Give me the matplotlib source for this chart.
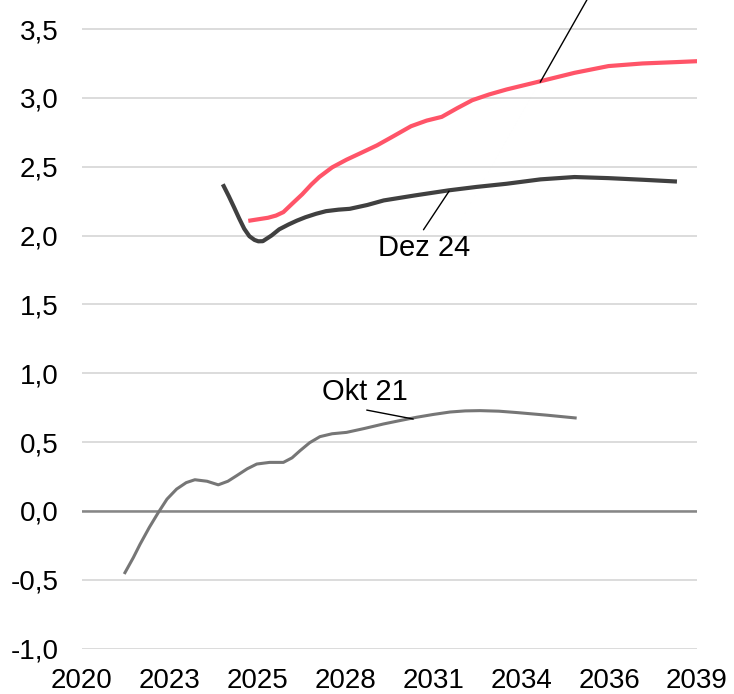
import matplotlib
matplotlib.use('Agg')
import matplotlib.pyplot as plt

# x positions are fractional years
okt21_x = [2021.84, 2022.10, 2022.31, 2022.60, 2022.88, 2023.15, 2023.45, 2023.75, 2024.02, 2024.40,
           2024.75, 2025.05, 2025.32, 2025.65, 2025.95, 2026.35, 2026.78, 2027.05, 2027.30, 2027.60,
           2027.92, 2028.30, 2028.75, 2029.30, 2029.90, 2030.40, 2030.94, 2031.45, 2031.98, 2032.45,
           2032.91, 2033.50, 2034.06, 2035.00, 2035.88]
okt21_y = [-0.449, -0.340, -0.243, -0.120, -0.012, 0.085, 0.158, 0.205, 0.226, 0.215,
           0.189, 0.215, 0.255, 0.305, 0.340, 0.352, 0.352, 0.385, 0.437, 0.495,
           0.539, 0.560, 0.570, 0.598, 0.631, 0.655, 0.680, 0.700, 0.718, 0.726,
           0.728, 0.724, 0.714, 0.695, 0.675]

dez24_x = [2024.92, 2025.08, 2025.24, 2025.40, 2025.56, 2025.72, 2025.88, 2026.00, 2026.14, 2026.41,
           2026.65, 2026.94, 2027.20, 2027.47, 2027.80, 2028.11, 2028.50, 2028.85, 2029.40, 2029.91,
           2030.90, 2031.93, 2032.80, 2033.74, 2034.80, 2035.86, 2036.92, 2038.00, 2038.99]
dez24_y = [2.359, 2.285, 2.206, 2.125, 2.049, 1.995, 1.968, 1.958, 1.959, 2.000,
           2.045, 2.080, 2.108, 2.133, 2.158, 2.177, 2.188, 2.194, 2.222, 2.255,
           2.292, 2.328, 2.353, 2.376, 2.408, 2.425, 2.417, 2.405, 2.393]

neu_x = [2025.75, 2026.05, 2026.30, 2026.55, 2026.78, 2027.05, 2027.37, 2027.65, 2027.90, 2028.30,
         2028.75, 2029.20, 2029.70, 2030.20, 2030.76, 2031.25, 2031.72, 2032.20, 2032.67, 2033.20,
         2033.74, 2034.80, 2035.86, 2036.92, 2037.98, 2039.05, 2039.74]
neu_y = [2.109, 2.120, 2.129, 2.145, 2.170, 2.230, 2.300, 2.370, 2.425, 2.495,
         2.551, 2.600, 2.655, 2.720, 2.794, 2.835, 2.862, 2.925, 2.983, 3.025,
         3.061, 3.121, 3.182, 3.231, 3.250, 3.260, 3.267]

x_ticks = [2020.5 + 2.74 * i for i in range(8)]
x_labels = ['2020', '2023', '2025', '2028', '2031', '2034', '2036', '2039']
y_ticks = [-1.0, -0.5, 0.0, 0.5, 1.0, 1.5, 2.0, 2.5, 3.0, 3.5]
y_labels = ['-1,0', '-0,5', '0,0', '0,5', '1,0', '1,5', '2,0', '2,5', '3,0', '3,5']

plt.rcParams['font.family'] = ['Liberation Sans', 'DejaVu Sans']

fig = plt.figure(figsize=(7.34, 6.94), dpi=100)
ax = fig.add_axes([82 / 734, (694 - 648.5) / 694, 615 / 734, 648.5 / 694])

for y in y_ticks:
    ax.axhline(y, color='#D9D9D9', lw=1.3, zorder=0)
ax.axhline(0, color='#868686', lw=1.8, zorder=1)

ax.plot(okt21_x, okt21_y, color='#767676', lw=2.2, zorder=3, solid_joinstyle='round')
ax.plot(dez24_x, dez24_y, color='#404040', lw=3.0, zorder=3, solid_joinstyle='round')
ax.plot(neu_x, neu_y, color='#FF5468', lw=3.0, zorder=3, solid_joinstyle='round')

ax.annotate('', xy=(2034.79, 3.114), xytext=(2036.9, 3.98),
            arrowprops=dict(arrowstyle='-', color='black', lw=1, shrinkA=0, shrinkB=0),
            annotation_clip=False)
ax.annotate('', xy=(2031.95, 2.323), xytext=(2031.15, 2.042),
            arrowprops=dict(arrowstyle='-', color='black', lw=1, shrinkA=0, shrinkB=0))
ax.text(2031.17, 1.906, 'Dez 24', fontsize=21, ha='center', va='center')
ax.annotate('', xy=(2030.83, 0.667), xytext=(2029.38, 0.732),
            arrowprops=dict(arrowstyle='-', color='black', lw=1, shrinkA=0, shrinkB=0))
ax.text(2029.33, 0.86, 'Okt 21', fontsize=21, ha='center', va='center')

ax.set_xlim(x_ticks[0], x_ticks[-1])
ax.set_ylim(-1.0, 3.711)
ax.set_xticks(x_ticks)
ax.set_xticklabels(x_labels)
ax.set_yticks(y_ticks)
ax.set_yticklabels(y_labels)
ax.tick_params(length=0, labelsize=20)
ax.tick_params(axis='y', pad=17)
ax.tick_params(axis='x', pad=14)
for s in ax.spines.values():
    s.set_visible(False)

fig.savefig('out.png', dpi=100)
